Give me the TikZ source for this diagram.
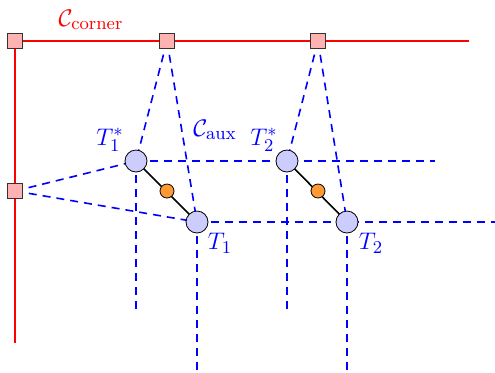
\documentclass[tikz,border=0pt]{standalone}
\usepackage{amsmath}
\begin{document}
\begin{tikzpicture}[x=0.5pt,y=-0.5pt,
  sq/.style={draw=black!80,fill=red!30,minimum size=7.5pt,inner sep=0pt,rectangle},
  tnode/.style={circle,draw=black,fill=blue!20,minimum size=11pt,inner sep=0pt},
  mid/.style={circle,draw=black,fill=orange!80,minimum size=7pt,inner sep=0pt},
  redl/.style={red,thick},
  bl/.style={blue,thick,dashed,dash pattern=on 4pt off 3pt},
  lab/.style={blue,inner sep=1pt,font=\fontsize{13}{15}\selectfont}]
\useasboundingbox (0,0) rectangle (495,372);
\coordinate (rEnd) at (469,41);
\coordinate (vEnd) at (15,343);
\coordinate (h1) at (435,161);
\coordinate (h2) at (495,222);
\coordinate (v1) at (136,310);
\coordinate (v2) at (197,370);
\coordinate (v3) at (287,310);
\coordinate (v4) at (347,370);
% red corner
\coordinate (c0) at (15,41);
\draw[redl] (vEnd) -- (c0) -- (rEnd);
% dashed lines
\coordinate (T1s) at (136,161);
\coordinate (T1) at (197,222);
\coordinate (T2s) at (287,161);
\coordinate (T2) at (347,222);
\coordinate (s1) at (167,41);
\coordinate (s2) at (318,41);
\coordinate (s3) at (15,191);
\draw[bl] (s1) -- (T1s); \draw[bl] (s1) -- (T1);
\draw[bl] (s2) -- (T2s); \draw[bl] (s2) -- (T2);
\draw[bl] (s3) -- (T1s); \draw[bl] (s3) -- (T1);
\draw[bl] (T1s) -- (h1);
\draw[bl] (T1) -- (h2);
\draw[bl] (T1s) -- (v1);
\draw[bl] (T1) -- (v2);
\draw[bl] (T2s) -- (v3);
\draw[bl] (T2) -- (v4);
\draw[thick] (T1s) -- (T1);
\draw[thick] (T2s) -- (T2);
% nodes
\node[sq] (q0) at (c0) {};
\node[sq] (q1) at (s1) {};
\node[sq] (q2) at (s2) {};
\node[sq] (q3) at (s3) {};
\node[tnode] (n1s) at (T1s) {};
\node[tnode] (n1) at (T1) {};
\node[tnode] (n2s) at (T2s) {};
\node[tnode] (n2) at (T2) {};
\node[mid] (m1) at (167,191) {};
\node[mid] (m2) at (318,191) {};
% labels
\node[lab,red] (lc) at (91,20) {$\mathcal{C}_{\text{corner}}$};
\node[lab] (la) at (215,130) {$\mathcal{C}_{\text{aux}}$};
\node[lab] (l1s) at (110,140) {$T_1^*$};
\node[lab] (l2s) at (264,140) {$T_2^*$};
\node[lab] (l1) at (220,243) {$T_1$};
\node[lab] (l2) at (371,243) {$T_2$};
\end{tikzpicture}
\end{document}
